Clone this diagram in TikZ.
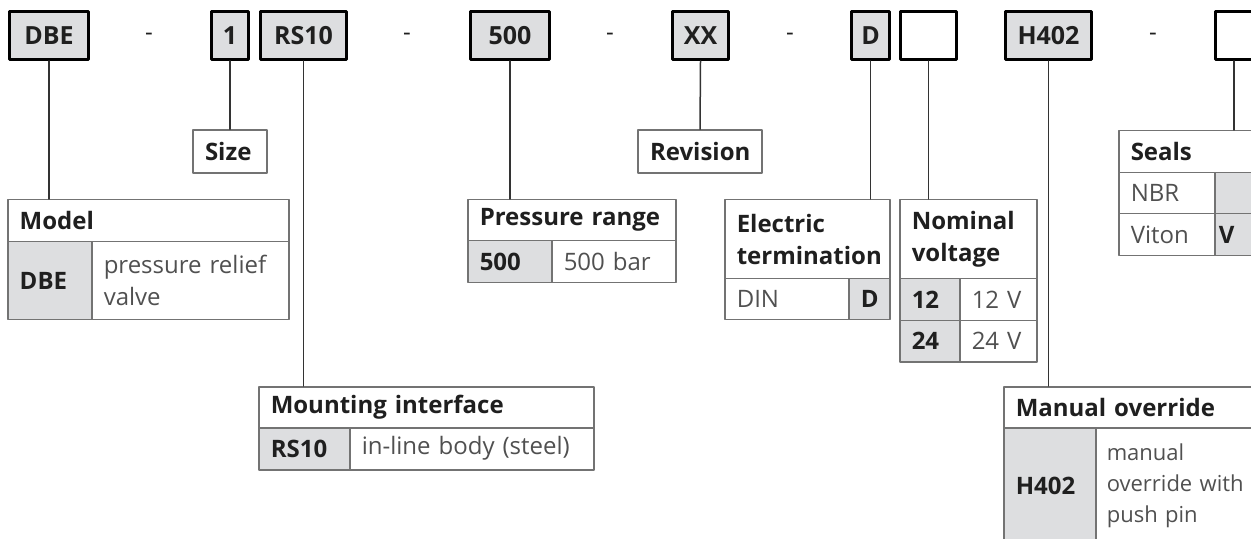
\documentclass[tikz,border=0pt]{standalone}
\usepackage{fontspec}
\setmainfont{Open Sans}
\definecolor{codefill}{RGB}{221,222,224}
\definecolor{rulegray}{RGB}{115,115,115}
\definecolor{desctext}{RGB}{80,80,80}
\begin{document}
\begin{tikzpicture}[x=0.5pt, y=-0.5pt, line join=round, line cap=round]
  \tikzset{
    every node/.style={font=\fontsize{12}{16}\selectfont, text=black!88},
    codebox/.style={draw=black, line width=1.5pt, fill=codefill, inner sep=0pt,
      minimum height=24pt, font=\fontsize{12.5}{16}\selectfont\bfseries},
    blankbox/.style={codebox, fill=white},
    hyphen/.style={font=\fontsize{12}{16}\selectfont},
    link/.style={draw=black!80, line width=0.75pt},
    cell/.style={draw=rulegray, line width=0.75pt, anchor=north west, inner xsep=6pt,
      inner ysep=0pt, align=left},
    head/.style={cell, font=\fontsize{12}{16}\selectfont\bfseries},
    code/.style={cell, fill=codefill, font=\fontsize{12}{16}\selectfont\bfseries},
    desc/.style={cell, text=desctext}
  }
  \clip (0,0) rectangle (1251,539);
  \useasboundingbox (0,0) rectangle (1251,539);

  % type code
  \node[codebox, minimum width=39.5pt] (dbe) at (49,35.5) {DBE};
  \node[codebox, minimum width=18.5pt] (one) at (230,35.5) {1};
  \node[codebox, minimum width=43pt] (rs) at (303.5,35.5) {RS10};
  \node[codebox, minimum width=39.5pt] (bar) at (510,35.5) {500};
  \node[codebox, minimum width=28pt] (xx) at (700.5,35.5) {XX};
  \node[codebox, minimum width=19pt] (din) at (870.5,35.5) {D};
  \node[blankbox, minimum width=28pt] (volt) at (928.5,35.5) {};
  \node[codebox, minimum width=43pt] (h402) at (1048.5,35.5) {H402};
  \node[blankbox, minimum width=19pt] (seal) at (1234,35.5) {};
  \foreach \x/\n in {149/a, 407/b, 610/c, 790/d, 1153/e}
    \node[hyphen] (dash\n) at (\x,37) {-};

  % single labels
  \node[head, anchor=center, text width=25pt, minimum height=21.5pt] (size) at (230,151.5) {Size};
  \node[head, anchor=center, text width=50pt, minimum height=21.5pt] (rev) at (700,151.5) {Revision};

  % model
  \node[head, text width=128.5pt, minimum height=21pt] (modelhead) at (7,199) {Model};
  \node[code, text width=30pt, minimum height=39pt] (modelcode) at (7,241) {DBE};
  \node[desc, text width=86.5pt, minimum height=39pt] (modeldesc) at (91,241) {pressure relief\\valve};

  % pressure range
  \node[head, text width=92pt, minimum height=20.5pt] (presshead) at (467,199) {Pressure range};
  \node[code, text width=30pt, minimum height=21pt] (presscode) at (467,240) {500};
  \node[desc, text width=50pt, minimum height=21pt] (pressdesc) at (551,240) {500~bar};

  % electric termination
  \node[head, text width=70.5pt, minimum height=39.5pt] (elechead) at (724,199) {Electric\\termination};
  \node[desc, text width=50pt, minimum height=20.5pt] (elecdesc) at (724,278) {DIN};
  \node[code, text width=8.5pt, minimum height=20.5pt] (eleccode) at (848,278) {D};

  % nominal voltage
  \node[head, text width=56.5pt, minimum height=39.5pt] (nomhead) at (899,199) {Nominal\\voltage};
  \node[code, text width=18pt, minimum height=21pt] (nomcodea) at (899,278) {12};
  \node[desc, text width=26.5pt, minimum height=21pt] (nomdesca) at (959,278) {12~V};
  \node[code, text width=18pt, minimum height=20.5pt] (nomcodeb) at (899,320) {24};
  \node[desc, text width=26.5pt, minimum height=20.5pt] (nomdescb) at (959,320) {24~V};

  % mounting interface
  \node[head, text width=155.5pt, minimum height=20.5pt] (mounthead) at (258,386) {Mounting interface};
  \node[code, text width=33.5pt, minimum height=21pt] (mountcode) at (258,427) {RS10};
  \node[desc, text width=110pt, minimum height=21pt] (mountdesc) at (349,427) {in-line body (steel)};

  % seals
  \node[head, text width=68pt, minimum height=21pt] (sealhead) at (1118,130) {Seals};
  \node[desc, text width=36pt, minimum height=20.5pt] (sealdesca) at (1118,172) {NBR};
  \node[code, text width=20pt, minimum height=20.5pt] (sealcodea) at (1214,172) {};
  \node[desc, text width=36pt, minimum height=21pt] (sealdescb) at (1118,213) {Viton};
  \node[code, inner xsep=2pt, text width=28pt, minimum height=21pt] (sealcodeb) at (1214,213) {V};

  % manual override
  \node[head, text width=136.5pt, minimum height=20.5pt] (manhead) at (1003,386) {Manual override};
  \node[code, text width=34pt, minimum height=58pt] (mancode) at (1003,427) {H402};
  \node[desc, inner xsep=5.5pt, text width=91.5pt, minimum height=58pt,
    font=\fontsize{11}{15.5}\selectfont] (mandesc) at (1095,427) {manual\\override with\\push pin};

  % connectors
  \draw[link] (dbe.south) -- (dbe.south |- modelhead.north);
  \draw[link] (one.south) -- (size.north);
  \draw[link] (rs.south) -- (rs.south |- mounthead.north);
  \draw[link] (bar.south) -- (bar.south |- presshead.north);
  \draw[link] (xx.south) -- (rev.north);
  \draw[link] (din.south) -- (din.south |- elechead.north);
  \draw[link] (volt.south) -- (volt.south |- nomhead.north);
  \draw[link] (h402.south) -- (h402.south |- manhead.north);
  \draw[link] (seal.south) -- (seal.south |- sealhead.north);
\end{tikzpicture}
\end{document}
